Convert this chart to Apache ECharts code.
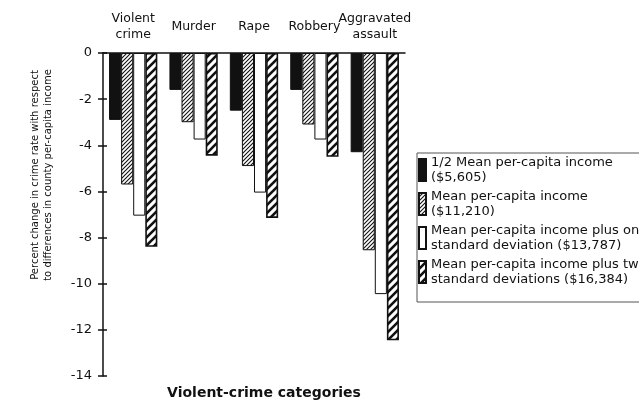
<html>
<head>
<meta charset="utf-8">
<script src="https://cdn.jsdelivr.net/npm/echarts@6/dist/echarts.min.js"></script>
<style>
  body { margin: 0; background: #fff; }
  #main { width: 639px; height: 407px; }
</style>
</head>
<body>
<div id="main"></div>
<script>
// 数据
var categories = ['Violent\ncrime', 'Murder', 'Rape', 'Robbery', 'Aggravated\nassault'];
var seriesNames = [
  '1/2 Mean per-capita income\n($5,605)',
  'Mean per-capita income\n($11,210)',
  'Mean per-capita income plus one\nstandard deviation ($13,787)',
  'Mean per-capita income plus two\nstandard deviations ($16,384)'
];
var halfMean = [-2.9, -1.6, -2.5, -1.6, -4.3];
var meanIncome = [-5.7, -3.0, -4.9, -3.1, -8.55];
var plusOneSd = [-7.05, -3.75, -6.05, -3.75, -10.45];
var plusTwoSd = [-8.4, -4.45, -7.15, -4.5, -12.45];
var yMin = -14, yMax = 0, yStep = 2;

var FONT = 'DejaVu Sans';

// 斜线填充
function hatch(size, width) {
  var c = document.createElement('canvas');
  c.width = size; c.height = size;
  var ctx = c.getContext('2d');
  ctx.fillStyle = '#fff';
  ctx.fillRect(0, 0, size, size);
  ctx.strokeStyle = '#111';
  ctx.lineWidth = width;
  ctx.lineCap = 'square';
  ctx.beginPath();
  ctx.moveTo(0, size); ctx.lineTo(size, 0);
  ctx.moveTo(-1, 1); ctx.lineTo(1, -1);
  ctx.moveTo(size - 1, size + 1); ctx.lineTo(size + 1, size - 1);
  ctx.stroke();
  return { image: c, repeat: 'repeat' };
}

function bar(name, data, color, bw) {
  return {
    name: name, type: 'bar', data: data,
    barGap: '0%', barCategoryGap: '20%',
    itemStyle: { color: color, borderColor: '#111', borderWidth: bw },
    emphasis: { disabled: true }
  };
}

var chart = echarts.init(document.getElementById('main'));
chart.setOption({
  animation: false,
  backgroundColor: '#fff',
  textStyle: { fontFamily: FONT, color: '#111' },
  grid: { left: 103, right: 234, top: 53, bottom: 31 },
  legend: {
    orient: 'vertical', left: 417, top: 153,
    padding: [2, 4, 15, 1],
    itemWidth: 7, itemHeight: 22, itemGap: 4,
    icon: 'rect',
    borderColor: '#555', borderWidth: 1,
    textStyle: { fontFamily: FONT, fontSize: 13, lineHeight: 15, color: '#111' },
    data: seriesNames
  },
  xAxis: {
    type: 'category', position: 'top', data: categories,
    axisLine: { lineStyle: { color: '#111', width: 1.5 } },
    axisTick: { length: 3, lineStyle: { color: '#111' } },
    axisLabel: {
      fontFamily: FONT, fontSize: 12.5, lineHeight: 16, color: '#111',
      verticalAlign: 'middle', margin: 26, interval: 0
    },
    splitLine: { show: false }
  },
  yAxis: [{
    type: 'value', min: yMin, max: yMax, interval: yStep,
    axisLine: { show: true, lineStyle: { color: '#111', width: 1.5 } },
    axisTick: { show: true, length: 5, lineStyle: { color: '#111', width: 1.5 } },
    axisLabel: { fontFamily: FONT, fontSize: 13, color: '#111', margin: 11 },
    splitLine: { show: false }
  }, {
    type: 'value', min: yMin, max: yMax, interval: yStep, position: 'left',
    axisLine: { show: false },
    axisTick: { show: true, inside: true, length: 4, lineStyle: { color: '#111', width: 1.5 } },
    axisLabel: { show: false },
    splitLine: { show: false }
  }],
  graphic: [{
    type: 'text', x: 42, y: 175, rotation: Math.PI / 2,
    style: {
      text: 'Percent change in crime rate with respect\nto differences in county per-capita income',
      fontFamily: FONT, fontSize: 10, lineHeight: 13, fill: '#111',
      align: 'center', verticalAlign: 'middle'
    }
  }, {
    type: 'text', x: 264, y: 393,
    style: {
      text: 'Violent-crime categories',
      fontFamily: FONT, fontSize: 14, fontWeight: 'bold', fill: '#111',
      align: 'center', verticalAlign: 'middle'
    }
  }],
  series: [
    bar(seriesNames[0], halfMean, '#111', 1),
    bar(seriesNames[1], meanIncome, hatch(4, 1.1), 1),
    bar(seriesNames[2], plusOneSd, '#fff', 1),
    bar(seriesNames[3], plusTwoSd, hatch(8, 2.6), 1.6)
  ]
});
</script>
</body>
</html>
